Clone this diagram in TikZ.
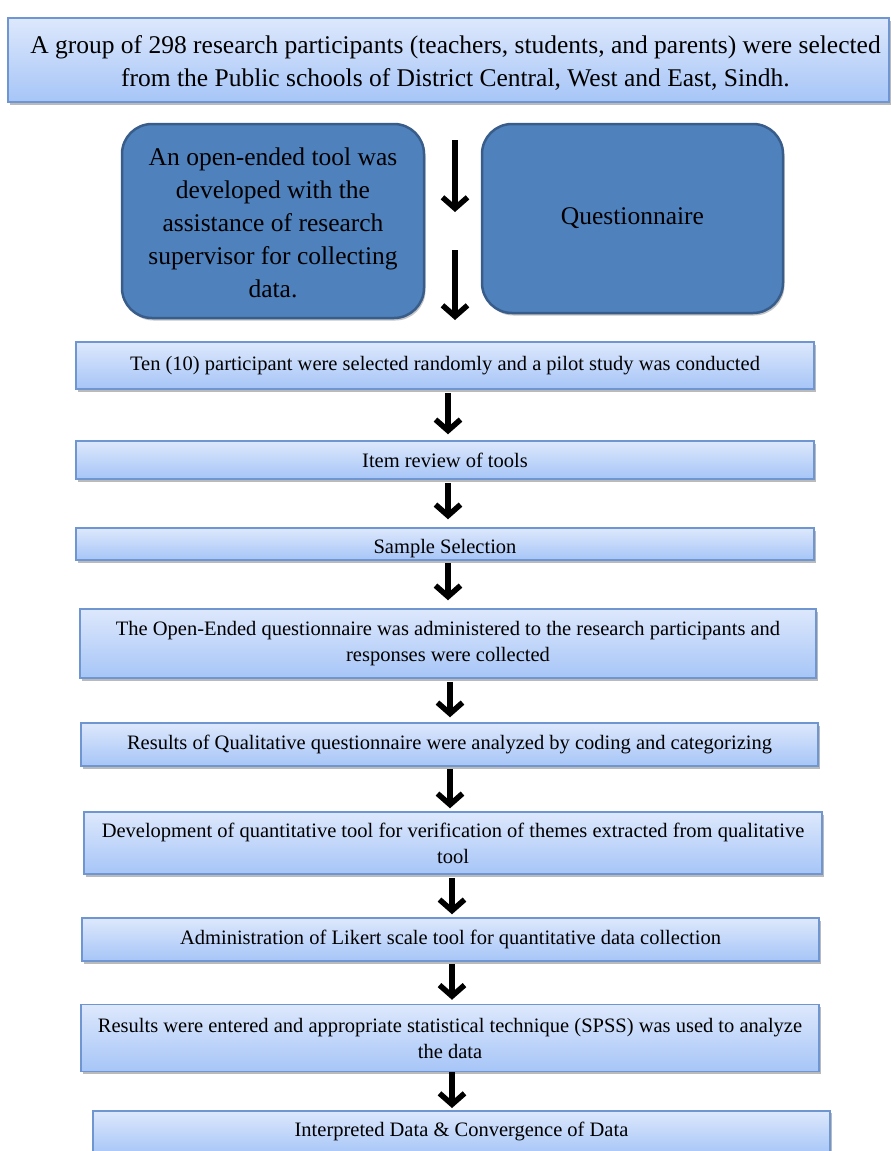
\documentclass[tikz,border=0pt]{standalone}
\usepackage{fontspec}
\setmainfont{Liberation Serif}
\usetikzlibrary{arrows.meta,shadows,calc}
\definecolor{lighttop}{HTML}{DDE8FC}
\definecolor{lightbot}{HTML}{A6C5F7}
\definecolor{lightborder}{HTML}{6F96D0}
\definecolor{darkfill}{HTML}{4F81BD}
\definecolor{darkborder}{HTML}{385D8A}
\begin{document}
\begin{tikzpicture}[x=1pt,y=-1pt,
  lbox/.style={draw=lightborder, line width=1.5pt, top color=lighttop, bottom color=lightbot,
    drop shadow={shadow xshift=1.5pt, shadow yshift=-2.5pt, fill=black!45, opacity=0.6},
    align=center, inner sep=0pt, font=\fontsize{20.5}{26}\selectfont},
  dbox/.style={draw=darkborder, line width=2.5pt, fill=darkfill, rounded corners=30pt,
    drop shadow={shadow xshift=1.5pt, shadow yshift=-2.5pt, fill=black!45, opacity=0.5},
    align=center, inner sep=0pt, font=\fontsize{25.5}{33}\selectfont},
  btext/.style={align=center, inner sep=0pt, font=\fontsize{20.5}{26}\selectfont},
  flow/.style={line width=5.5pt, -{Straight Barb[length=11pt,width=25pt,line width=5.5pt]}},
]
\useasboundingbox (0,0) rectangle (891,1151);
\fill[white] (0,0) rectangle (891,1151);

\node[lbox, line width=2pt, minimum width=881, minimum height=84] (top) at (448.5,60) {};
\node[btext, font=\fontsize{25.5}{33}\selectfont] (toptext) at (455.5,63)
  {A group of 298 research participants (teachers, students, and parents) were selected\\from the Public schools of District Central, West and East, Sindh.};

\node[dbox, minimum width=302, minimum height=194] (tool) at (273,221) {};
\node[btext, font=\fontsize{25.5}{33}\selectfont] (tooltext) at (273,223)
  {An open-ended tool was\\developed with the\\assistance of research\\supervisor for collecting\\data.};
\node[dbox, minimum width=301, minimum height=189] (quest) at (632.5,218.5) {Questionnaire};

\coordinate (a1s) at (455,140);
\coordinate (a1e) at (455,212);
\coordinate (a2s) at (455,250);
\coordinate (a2e) at (455,320);
\draw[flow] (a1s) -- (a1e);
\draw[flow] (a2s) -- (a2e);

\node[lbox, minimum width=738, minimum height=47] (b1) at (445,365.5)
  {Ten (10) participant were selected randomly and a pilot study was conducted};
\node[lbox, minimum width=738, minimum height=38] (b2) at (445,460) {Item review of tools};
\node[lbox, minimum width=738, minimum height=32] (b3) at (445,544) {};
\node[btext] (b3t) at (445,549) {Sample Selection};
\node[lbox, minimum width=736, minimum height=69] (b4) at (448,643.5)
  {The Open-Ended questionnaire was administered to the research participants and\\responses were collected};
\node[lbox, minimum width=737, minimum height=43] (b5) at (449.5,744.5)
  {Results of Qualitative questionnaire were analyzed by coding and categorizing};
\node[lbox, minimum width=738, minimum height=62] (b6) at (453,843)
  {Development of quantitative tool for verification of themes extracted from qualitative\\tool};
\node[lbox, minimum width=737, minimum height=43] (b7) at (450.5,939.5)
  {Administration of Likert scale tool for quantitative data collection};
\node[lbox, minimum width=738, minimum height=67] (b8) at (450,1038)
  {Results were entered and appropriate statistical technique (SPSS) was used to analyze\\the data};
\node[lbox, minimum width=737, minimum height=44, anchor=north] (b9) at (461.5,1110) {};
\node[btext] (b9t) at (461.5,1131) {Interpreted Data \& Convergence of Data};

\draw[flow] ([xshift=3pt,yshift=-3pt]b1.south) -- ([xshift=3pt,yshift=6pt]b2.north);
\draw[flow] ([xshift=3pt,yshift=-3pt]b2.south) -- ([xshift=3pt,yshift=8pt]b3.north);
\draw[flow] ([xshift=3pt,yshift=-2pt]b3.south) -- ([xshift=0pt,yshift=8pt]b4.north);
\draw[flow] ([xshift=2pt,yshift=-3pt]b4.south) -- ([xshift=0.5pt,yshift=5pt]b5.north);
\draw[flow] ([xshift=0.5pt,yshift=-2pt]b5.south) -- ([xshift=-3pt,yshift=3pt]b6.north);
\draw[flow] ([xshift=-1pt,yshift=-3pt]b6.south) -- ([xshift=1.5pt,yshift=3pt]b7.north);
\draw[flow] ([xshift=1.5pt,yshift=-2pt]b7.south) -- ([xshift=2pt,yshift=4pt]b8.north);
\draw[flow] ([xshift=2pt,yshift=0pt]b8.south) -- ([xshift=-9.5pt,yshift=2pt]b9.north);
\end{tikzpicture}
\end{document}
